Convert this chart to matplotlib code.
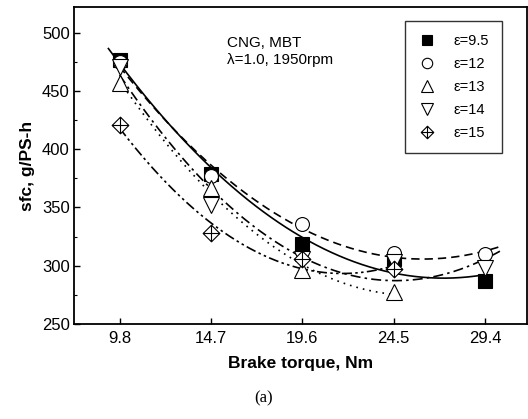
import numpy as np
import matplotlib
matplotlib.use("Agg")
import matplotlib.pyplot as plt
from matplotlib.path import Path

plt.rcParams['font.family'] = ['Liberation Sans', 'DejaVu Sans']

torque = [9.8, 14.7, 19.6, 24.5, 29.4]
tick_labels = ["9.8", "14.7", "19.6", "24.5", "29.4"]

eps95 = [477, 379, 319, 306, 287]
eps12 = [475, 377, 336, 311, 310]
eps13 = [457, 367, 296, 277]
eps14 = [471, 352, 306, 303, 298]
eps15 = [421, 328, 306, 297]

labels = ["ε=9.5", "ε=12", "ε=13", "ε=14", "ε=15"]

# crossed diamond marker
verts = [(0, 1), (1, 0), (0, -1), (-1, 0), (0, 1),
         (0, 1), (0, -1), (-1, 0), (1, 0)]
codes = [Path.MOVETO, Path.LINETO, Path.LINETO, Path.LINETO, Path.CLOSEPOLY,
         Path.MOVETO, Path.LINETO, Path.MOVETO, Path.LINETO]
xdiamond = Path(verts, codes)

series = [
    (eps95, 's', 'black', '-', (9.2, 29.4), 9.5),
    (eps12, 'o', 'white', (0, (5, 3)), (9.8, 30.2), 10),
    (eps13, '^', 'white', (0, (1, 3)), (9.8, 24.5), 11),
    (eps14, 'v', 'white', (0, (6, 2.5, 1.5, 2.5)), (9.8, 30.2), 11),
    (eps15, xdiamond, 'white', (0, (6, 2, 1.5, 2, 1.5, 2)), (9.8, 24.5), 12),
]

fig = plt.figure(figsize=(5.28, 4.19), dpi=100)
ax = fig.add_axes([0.140, 0.227, 0.858, 0.756])

handles = []
for vals, mk, fc, ls, (x0, x1), ms in series:
    xs = np.array(torque[:len(vals)])
    coef = np.polyfit(xs, np.array(vals, float), 2)
    xf = np.linspace(x0, x1, 200)
    ax.plot(xf, np.polyval(coef, xf), color='black', lw=1.2, linestyle=ls, zorder=2)
    h, = ax.plot(xs, vals, linestyle='none', marker=mk, markersize=ms,
                 markerfacecolor=fc, markeredgecolor='black', markeredgewidth=0.8, zorder=3)
    handles.append(h)

ax.set_xlim(7.35, 31.65)
ax.set_ylim(250, 522)
ax.set_xticks(torque)
ax.set_xticklabels(tick_labels)
ax.set_yticks([250, 300, 350, 400, 450, 500])
ax.set_yticks([275, 325, 375, 425, 475], minor=True)
ax.tick_params(direction='in', labelsize=12, length=4, width=1)
ax.tick_params(which='minor', direction='in', length=2.5, width=0.8)
ax.tick_params(axis='x', pad=5)
ax.tick_params(axis='y', pad=3)
for s in ax.spines.values():
    s.set_linewidth(1.3)

ax.set_xlabel("Brake torque, Nm", fontsize=12.5, fontweight='bold', labelpad=7)
ax.set_ylabel("sfc, g/PS-h", fontsize=12.5, fontweight='bold', labelpad=5)

ax.text(0.338, 0.91, "CNG, MBT\nλ=1.0, 1950rpm", transform=ax.transAxes,
        fontsize=11, va='top', ha='left', linespacing=1.3)

leg = fig.legend(handles, labels, loc='upper left', bbox_to_anchor=(0.767, 0.950),
                 bbox_transform=fig.transFigure, frameon=True, fancybox=False,
                 edgecolor='black', fontsize=10.5, handlelength=1.2, handletextpad=1.2,
                 borderpad=0.9, labelspacing=0.62, markerscale=0.75, borderaxespad=0)
leg.get_frame().set_linewidth(1.0)

fig.text(0.5, 0.05, "(a)", fontsize=12, family='Liberation Serif', ha='center', va='center')

fig.savefig("out.png", dpi=100)
